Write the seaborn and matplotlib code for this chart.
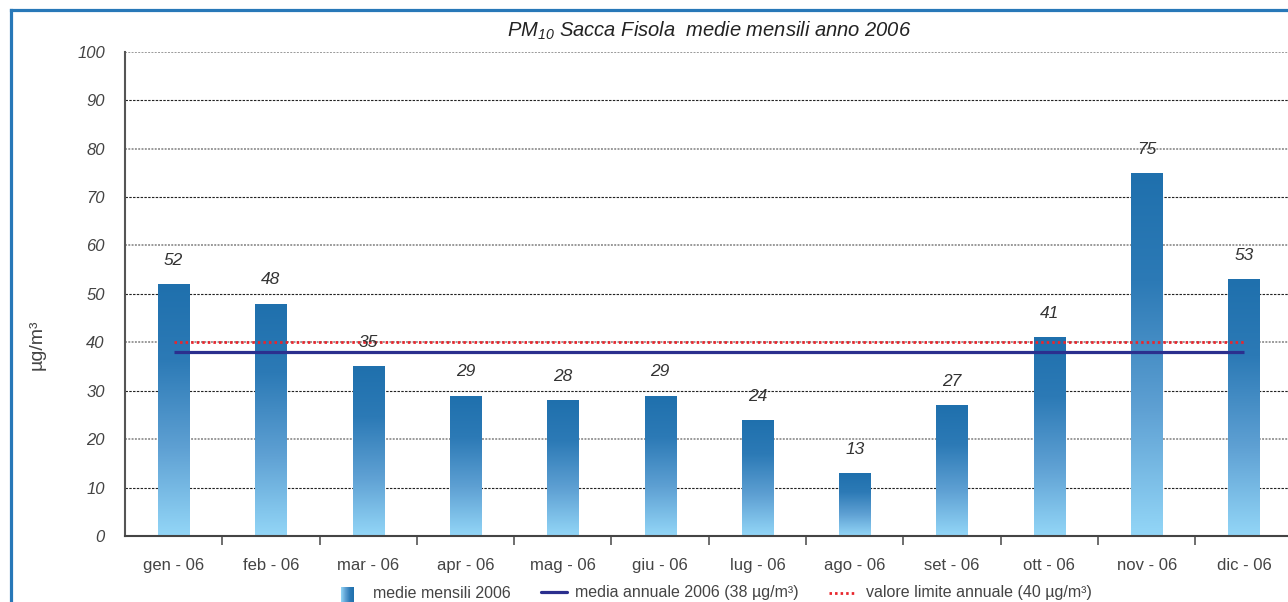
import numpy as np
import pandas as pd
import matplotlib
matplotlib.use("Agg")
import matplotlib.pyplot as plt
import seaborn as sns
from matplotlib.colors import LinearSegmentedColormap
from matplotlib.lines import Line2D

# Monthly PM10 means at Sacca Fisola, 2006
months = ["gen - 06", "feb - 06", "mar - 06", "apr - 06", "mag - 06", "giu - 06",
          "lug - 06", "ago - 06", "set - 06", "ott - 06", "nov - 06", "dic - 06"]
monthly_means = [52, 48, 35, 29, 28, 29, 24, 13, 27, 41, 75, 53]
annual_mean = 38
annual_limit = 40
y_ticks = [0, 10, 20, 30, 40, 50, 60, 70, 80, 90, 100]
legend_labels = ["medie mensili 2006",
                 "media annuale 2006 (38 µg/m³)",
                 "valore limite annuale (40 µg/m³)"]
title = "PM$_{10}$ Sacca Fisola  medie mensili anno 2006"
y_label = "µg/m³"

sns.set_theme(style="white")
plt.rcParams["font.family"] = ["Liberation Sans", "DejaVu Sans"]
plt.rcParams["mathtext.fontset"] = "custom"
plt.rcParams["mathtext.rm"] = "Liberation Sans:italic"
plt.rcParams["mathtext.it"] = "Liberation Sans:italic"

W, H = 1288, 602
fig = plt.figure(figsize=(W / 100, H / 100), dpi=100)
ax = fig.add_axes([125 / W, (H - 536) / H, (1292.6 - 125) / W, 484.3 / H])

bar_cmap = LinearSegmentedColormap.from_list(
    "bars", [(0.0, "#93d6f7"), (0.35, "#5ea0d3"), (0.7, "#2c7ab6"), (1.0, "#1f70ad")])

df = pd.DataFrame({"mese": months, "media": monthly_means})
sns.barplot(data=df, x="mese", y="media", color="#1f70ad", width=0.32,
            saturation=1, ax=ax, zorder=2)

# vertical gradient fill for each bar
grad = np.linspace(1, 0, 256).reshape(-1, 1)
for patch in ax.patches:
    x0, y0 = patch.get_xy()
    w, h = patch.get_width(), patch.get_height()
    im = ax.imshow(grad, extent=[x0, x0 + w, y0, y0 + h], origin="upper",
                   aspect="auto", cmap=bar_cmap, vmin=0, vmax=1, zorder=2.1)
    im.set_clip_path(patch)
    patch.set_facecolor("none")
    patch.set_edgecolor("none")
    ax.annotate(f"{h:.0f}", (x0 + w / 2, y0 + h), xytext=(0, 17),
                textcoords="offset points", ha="center", va="center",
                fontsize=12.5, style="italic", color="#333333", zorder=4)

red_style = dict(color="#e8262d", lw=2.0, linestyle=(0, (0.9, 1.1)))

xs = np.arange(len(months))
ax.plot(xs, [annual_mean] * len(months), color="#2b2f8e", lw=2.3, zorder=3,
        solid_capstyle="butt")
ax.plot(xs, [annual_limit] * len(months), zorder=3.2, **red_style)

ax.set_xlim(-0.5, len(months) - 0.5)
ax.set_ylim(0, 100)
ax.set_yticks(y_ticks)
ax.set_axisbelow(True)
ax.yaxis.grid(True)
for val, gl in zip(y_ticks, ax.get_ygridlines()):
    if val == 0:
        gl.set_visible(False)
    elif (val // 10) % 2 == 1:
        gl.set_color("#222222")
        gl.set_linewidth(0.8)
        gl.set_linestyle((0, (2.2, 1.2)))
    else:
        gl.set_color("#9a9a9a")
        gl.set_linewidth(1.4)
        gl.set_linestyle((0, (1, 0.7)))

ax.tick_params(axis="y", length=0, pad=14.5, labelsize=12, labelcolor="#444444")
for lbl in ax.get_yticklabels():
    lbl.set_style("italic")

ax.set_xlabel("")
ax.tick_params(axis="x", which="major", length=0, pad=16, labelsize=12,
               labelcolor="#444444")
ax.set_xticks(np.arange(0.5, len(months), 1), minor=True)
ax.tick_params(axis="x", which="minor", length=6.5, width=1.2, color="#555555",
               direction="out", bottom=True)

ax.set_ylabel(y_label, fontsize=14, color="#444444")
ax.yaxis.set_label_coords((46 - 125) / 1167.6, (536 - 345) / 484.3)

for side in ("top", "right"):
    ax.spines[side].set_visible(False)
ax.spines["left"].set_color("#555555")
ax.spines["left"].set_linewidth(1.5)
ax.spines["bottom"].set_color("#444444")
ax.spines["bottom"].set_linewidth(1.5)

ax.set_title(title, fontsize=14.5, style="italic", color="#222222", pad=11)

# outer frame (left and top)
frame_c = "#2878b8"
fig.add_artist(Line2D([10.5 / W, 10.5 / W], [0, 1 - 9.5 / H], color=frame_c, lw=2.3,
                      transform=fig.transFigure, solid_capstyle="projecting"))
fig.add_artist(Line2D([10.5 / W, 1], [1 - 9.5 / H, 1 - 9.5 / H], color=frame_c, lw=2.3,
                      transform=fig.transFigure, solid_capstyle="projecting"))

# legend row
ly = 1 - 593 / H
lax = fig.add_axes([341 / W, 0, 13 / W, (H - 587) / H])
lax.imshow(np.linspace(0, 1, 64).reshape(1, -1), aspect="auto", cmap=bar_cmap,
           vmin=0, vmax=1)
lax.set_axis_off()
fig.text(373 / W, ly, legend_labels[0], fontsize=11.5, color="#444444", va="center")
fig.add_artist(Line2D([541 / W, 567 / W], [1 - 592 / H] * 2, color="#2b2f8e", lw=2.3,
                      transform=fig.transFigure))
fig.text(575 / W, ly, legend_labels[1], fontsize=11.5, color="#444444", va="center")
fig.add_artist(Line2D([829 / W, 855 / W], [1 - 593 / H] * 2,
                      transform=fig.transFigure, **red_style))
fig.text(866 / W, ly, legend_labels[2], fontsize=11.5, color="#444444", va="center")

fig.savefig("out.png", dpi=100)
